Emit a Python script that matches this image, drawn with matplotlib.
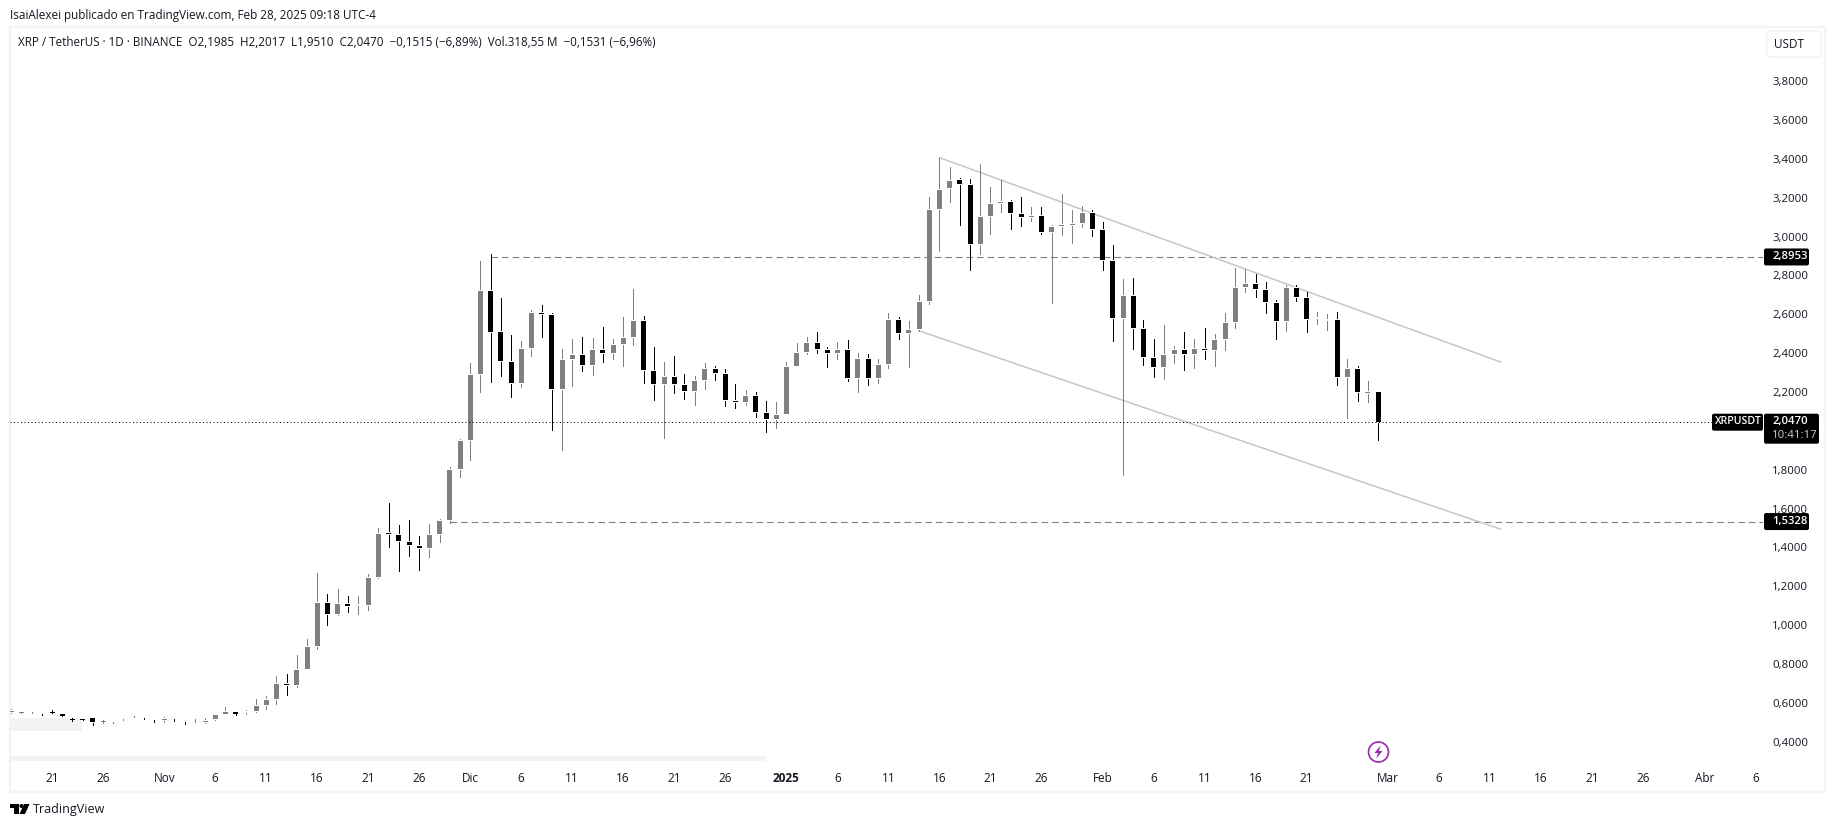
import numpy as np
import matplotlib
matplotlib.use("Agg")
import matplotlib.pyplot as plt
from matplotlib.patches import Circle, FancyBboxPatch, Polygon, Rectangle

# daily XRPUSDT candles, first one is Oct 17, day 0 is Oct 21
first_day = -4
opens = [
    .553, .549, .548, .539, .550, .542, .515, .514, .523, .500, .497, .512, .526, .518, .512, .512, .511, .502, .505,
    .499, .514, .542, .550, .551, .555, .586, .617, .695, .690, .772, .891, 1.112, 1.056, 1.107, 1.101, 1.102,
    1.247, 1.475, 1.463, 1.425, 1.406, 1.396, 1.468, 1.541, 1.804, 1.953, 2.293, 2.722, 2.510, 2.355, 2.247, 2.428,
    2.608, 2.598, 2.216, 2.371, 2.391, 2.340, 2.417, 2.402, 2.448, 2.484, 2.567, 2.309, 2.242, 2.278, 2.237, 2.206,
    2.263, 2.319, 2.293, 2.154, 2.149, 2.180, 2.092, 2.061, 2.087, 2.335, 2.407, 2.453, 2.417, 2.402, 2.417, 2.273,
    2.371, 2.273, 2.345, 2.572, 2.505, 2.526, 2.670, 3.144, 3.248, 3.294, 3.268, 2.964, 3.108, 3.175, 3.180, 3.119,
    3.103, 3.108, 3.026, 3.057, 3.062, 3.072, 3.124, 3.036, 2.876, 2.582, 2.696, 2.526, 2.376, 2.330, 2.397, 2.417,
    2.397, 2.422, 2.417, 2.474, 2.562, 2.742, 2.758, 2.727, 2.660, 2.567, 2.737, 2.685, 2.581, 2.571, 2.572, 2.278,
    2.319, 2.196, 2.1985,
]
highs = [
    .566, .551, .550, .540, .561, .543, .521, .515, .525, .509, .499, .516, .530, .521, .513, .525, .516, .503, .516,
    .519, .543, .576, .551, .561, .617, .633, .736, .746, .844, .927, 1.267, 1.159, 1.185, 1.149, 1.149, 1.262,
    1.499, 1.628, 1.515, 1.541, 1.458, 1.520, 1.546, 1.814, 1.957, 2.350, 2.876, 2.912, 2.685, 2.495, 2.464, 2.624,
    2.649, 2.608, 2.422, 2.474, 2.484, 2.479, 2.536, 2.474, 2.587, 2.732, 2.593, 2.433, 2.355, 2.386, 2.293, 2.283,
    2.350, 2.335, 2.319, 2.242, 2.211, 2.201, 2.154, 2.149, 2.355, 2.453, 2.484, 2.510, 2.433, 2.458, 2.469, 2.402,
    2.397, 2.371, 2.608, 2.587, 2.567, 2.701, 3.206, 3.407, 3.361, 3.304, 3.299, 3.376, 3.253, 3.294, 3.191, 3.206,
    3.150, 3.150, 3.062, 3.217, 3.139, 3.160, 3.139, 3.077, 2.959, 2.783, 2.789, 2.572, 2.474, 2.546, 2.438, 2.510,
    2.474, 2.531, 2.500, 2.608, 2.840, 2.835, 2.809, 2.768, 2.675, 2.752, 2.752, 2.716, 2.613, 2.603, 2.613, 2.371,
    2.335, 2.257, 2.2017,
]
lows = [
    .545, .547, .546, .536, .547, .530, .507, .512, .483, .494, .496, .509, .524, .514, .499, .500, .507, .488, .499,
    .495, .509, .541, .539, .540, .550, .566, .595, .638, .679, .772, .875, .999, 1.051, 1.066, 1.056, 1.076,
    1.241, 1.401, 1.278, 1.355, 1.283, 1.350, 1.427, 1.525, 1.762, 1.850, 2.201, 2.252, 2.283, 2.175, 2.226, 2.386,
    2.484, 2.005, 1.902, 2.232, 2.309, 2.288, 2.355, 2.371, 2.335, 2.443, 2.247, 2.159, 1.963, 2.196, 2.165, 2.134,
    2.216, 2.263, 2.128, 2.118, 2.134, 2.072, 1.994, 2.015, 2.087, 2.335, 2.397, 2.402, 2.330, 2.371, 2.257, 2.201,
    2.237, 2.247, 2.324, 2.474, 2.330, 2.515, 2.654, 2.928, 3.180, 3.062, 2.830, 2.912, 3.015, 3.129, 3.041, 3.057,
    3.083, 3.015, 2.660, 3.010, 2.969, 3.052, 3.005, 2.830, 2.464, 1.773, 2.422, 2.340, 2.278, 2.268, 2.350, 2.314,
    2.324, 2.371, 2.335, 2.417, 2.531, 2.716, 2.691, 2.608, 2.474, 2.515, 2.670, 2.510, 2.551, 2.520, 2.237, 2.067,
    2.154, 2.149, 1.9510,
]
closes = [
    .556, .550, .549, .538, .549, .531, .513, .513, .499, .504, .498, .513, .527, .517, .509, .514, .510, .499, .507,
    .507, .535, .550, .540, .553, .581, .612, .695, .691, .767, .886, 1.112, 1.056, 1.107, 1.097, 1.103, 1.241,
    1.468, 1.470, 1.432, 1.412, 1.396, 1.463, 1.535, 1.798, 1.948, 2.288, 2.722, 2.510, 2.361, 2.247, 2.422, 2.608,
    2.603, 2.216, 2.366, 2.391, 2.340, 2.417, 2.402, 2.443, 2.479, 2.567, 2.314, 2.242, 2.278, 2.242, 2.206, 2.257,
    2.319, 2.299, 2.159, 2.149, 2.180, 2.098, 2.061, 2.082, 2.330, 2.402, 2.453, 2.422, 2.402, 2.417, 2.273, 2.371,
    2.273, 2.340, 2.572, 2.505, 2.520, 2.665, 3.139, 3.242, 3.289, 3.273, 2.964, 3.103, 3.170, 3.180, 3.124, 3.103,
    3.108, 3.026, 3.052, 3.062, 3.067, 3.124, 3.041, 2.881, 2.582, 2.696, 2.531, 2.381, 2.330, 2.391, 2.417, 2.397,
    2.422, 2.418, 2.469, 2.556, 2.737, 2.758, 2.732, 2.665, 2.567, 2.737, 2.691, 2.577, 2.583, 2.573, 2.278, 2.319,
    2.201, 2.1985, 2.0470,
]

price_ticks = [3.8, 3.6, 3.4, 3.2, 3.0, 2.8, 2.6, 2.4, 2.2, 1.8, 1.6, 1.4, 1.2, 1.0, 0.8, 0.6, 0.4]
tick_days = [0, 5, 11, 16, 21, 26, 31, 36, 41, 46, 51, 56, 61, 66, 72, 77, 82, 87, 92, 97,
             103, 108, 113, 118, 123, 131, 136, 141, 146, 151, 156, 162, 167]
tick_labels = ["21", "26", "Nov", "6", "11", "16", "21", "26", "Dic", "6", "11", "16", "21", "26", "2025", "6", "11",
               "16", "21", "26", "Feb", "6", "11", "16", "21", "Mar", "6", "11", "16", "21", "26", "Abr", "6"]

last_price = 2.0470
level_high = 2.8953
level_low = 1.5328
level_high_day = 43
level_low_day = 39
# channel: (day, price) pairs of the two drawn trend lines
upper_days = [87, 142]
upper_prices = [3.407, 2.355]
lower_days = [85, 142]
lower_prices = [2.515, 1.494]

header = "IsaiAlexei publicado en TradingView.com, Feb 28, 2025 09:18 UTC-4"
legend = ("XRP / TetherUS · 1D · BINANCE  O2,1985  H2,2017  L1,9510  C2,0470  "
          "−0,1515 (−6,89%)  Vol.318,55 M  −0,1531 (−6,96%)")

W, H = 1835, 827
UP = "#808080"
DOWN = "#000000"
FRAME = "#f2f3f5"
TEXT = "#131722"
# pixel scale of the chart: day 0 sits at x=52, 10.2 px a day; last price at y=421.7, 194.2 px per 1.0 of price
PX_DAY = 10.2
PX_PRICE = 194.2
AX_LEFT, AX_RIGHT, AX_TOP, AX_BOTTOM = 10, 1763, 27, 756

plt.rcParams["font.family"] = ["Open Sans", "DejaVu Sans"]
fig = plt.figure(figsize=(W / 100, H / 100), dpi=100, facecolor="white")


def price_y(p):
    return 421.7 + (last_price - p) * PX_PRICE


# page furniture in plain pixel coordinates
chrome = fig.add_axes([0, 0, 1, 1], zorder=0)
chrome.set_xlim(0, W)
chrome.set_ylim(H, 0)
chrome.axis("off")
chrome.add_patch(Rectangle((10, 27), 1815, 765, fill=False, ec=FRAME, lw=1.6))
chrome.add_patch(Rectangle((10, 756), 755, 5, fc=FRAME, ec="none"))
chrome.add_patch(Rectangle((10, 718), 72, 13, fc=FRAME, ec="none"))
chrome.text(10, 15, header, fontsize=8.45, color=TEXT, va="center")
chrome.text(18, 43, legend, fontsize=8.42, color=TEXT, va="center")
chrome.add_patch(FancyBboxPatch((1769, 33), 50, 22, boxstyle="round,pad=2,rounding_size=4", fc="white", ec=FRAME, lw=1))
chrome.text(1789, 45, "USDT", fontsize=8.5, color=TEXT, ha="center", va="center")

# earnings style marker and the logo
chrome.add_patch(Circle((1378.5, 752), 10, fill=False, ec="#9c27b0", lw=1.2))
chrome.add_patch(Polygon([(1380.5, 745.5), (1374.5, 753), (1378, 753), (1376.5, 758.5), (1382.5, 751), (1379, 751)],
                         fc="#9c27b0", ec="none"))
chrome.add_patch(Polygon([(10, 804), (19, 804), (19, 814), (14, 814), (14, 808), (10, 808)], fc="#000000", ec="none"))
chrome.add_patch(Polygon([(24, 804), (29.5, 804), (25, 814), (19.5, 814)], fc="#000000", ec="none"))
chrome.add_patch(Circle((21.5, 806), 2, fc="#000000", ec="none"))
chrome.text(33, 809.5, "TradingView", fontsize=9, color=TEXT, va="center")

ax = fig.add_axes([AX_LEFT / W, 1 - AX_BOTTOM / H, (AX_RIGHT - AX_LEFT) / W, (AX_BOTTOM - AX_TOP) / H], zorder=1)
ax.patch.set_alpha(0)
ax.set_xlim((AX_LEFT - 52) / PX_DAY, (AX_RIGHT - 52) / PX_DAY)
ax.set_ylim(last_price + (421.7 - AX_BOTTOM) / PX_PRICE, last_price + (421.7 - AX_TOP) / PX_PRICE)

days = first_day + np.arange(len(opens))
o, h, l, c = map(np.array, (opens, highs, lows, closes))
colors = [UP if b >= a else DOWN for a, b in zip(o, c)]
body_low = np.minimum(o, c)
body_h = np.abs(c - o)
gap = 1 / PX_PRICE

ax.hlines(level_high, level_high_day, ax.get_xlim()[1], color="#808080", lw=0.8, linestyles=(0, (6, 3.5)), zorder=1)
ax.hlines(level_low, level_low_day, ax.get_xlim()[1], color="#808080", lw=0.8, linestyles=(0, (6, 3.5)), zorder=1)
ax.plot(upper_days, upper_prices, color="#c6c6cc", lw=1.1, zorder=1.5)
ax.plot(lower_days, lower_prices, color="#c6c6cc", lw=1.1, zorder=1.5)
ax.vlines(days, l, h, colors=colors, lw=0.7, antialiased=False, zorder=2)
# a white halo keeps the wick off the body, like the reference; tiny candles would lose their wick to it
tall = (h - l) > 0.02
ax.bar(days[tall], body_h[tall] + 2 * gap, bottom=body_low[tall] - gap, width=5 / PX_DAY, color="white", lw=0,
       antialiased=False, zorder=3)
ax.bar(days, body_h, bottom=body_low, width=5 / PX_DAY, color=colors, lw=0, antialiased=False, zorder=4)
ax.hlines(last_price, ax.get_xlim()[0], (1712 - 52) / PX_DAY, color="#000000", lw=0.72,
          linestyles=(0, (1, 2.5)), zorder=5)

for side in ax.spines.values():
    side.set_visible(False)
ax.yaxis.tick_right()
ax.set_yticks(price_ticks)
ax.set_yticklabels([f"{p:.4f}".replace(".", ",") for p in price_ticks], fontsize=8.2, color=TEXT)
ax.set_xticks(tick_days)
ax.set_xticklabels(tick_labels, fontsize=8.5, color=TEXT)
ax.tick_params(axis="y", length=0, pad=6.5)
ax.tick_params(axis="x", length=0, pad=11.5)
ax.get_xticklabels()[tick_labels.index("2025")].set_fontweight("bold")


def badge(x, y, w, bh, face="#000000"):
    ax.add_patch(FancyBboxPatch((x + 1, y + 1), w - 2, bh - 2, boxstyle="round,pad=1,rounding_size=2", fc=face,
                                ec="none", transform=chrome.transData, clip_on=False, zorder=6))


def badge_text(x, y, s, color="white", **kw):
    ax.text(x, y, s, color=color, va="center", transform=chrome.transData, clip_on=False, zorder=7, **kw)


for level in (level_high, level_low):
    y = price_y(level)
    badge(1764, y - 8.5, 45, 17)
    badge_text(1772, y, f"{level:.4f}".replace(".", ","), fontsize=8.2, fontweight="semibold")

y = price_y(last_price)
badge(1712, y - 8, 51, 17)
badge_text(1715, y, "XRPUSDT", fontsize=7.6, fontweight="semibold")
badge(1764, y - 8, 55, 30)
badge_text(1772, y, f"{last_price:.4f}".replace(".", ","), fontsize=8.2, fontweight="semibold")
badge_text(1772, y + 14, "10:41:17", color="#cfcfcf", fontsize=8.2)

fig.savefig("out.png", dpi=100, facecolor="white")
